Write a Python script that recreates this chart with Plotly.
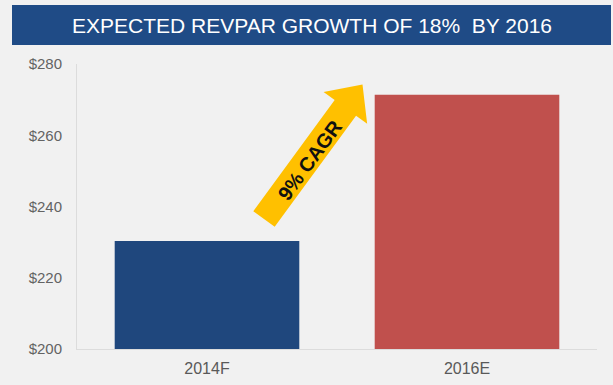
import math
import plotly.graph_objects as go

# RevPAR by year
categories = ["2014F", "2016E"]
revpar = [230.3, 271.4]
bar_colors = ["#1f477d", "#c0504d"]
tick_values = [200, 220, 240, 260, 280]
tick_labels = ["$200", "$220", "$240", "$260", "$280"]

W, H = 613, 385
L, R, T, B = 77, 16, 64, 36
PW, PH = W - L - R, H - T - B

fig = go.Figure(
    go.Bar(
        x=categories,
        y=revpar,
        marker=dict(color=bar_colors, line=dict(width=0)),
        width=0.71,
        hoverinfo="skip",
    )
)


def to_paper(px, py):
    return (px - L) / PW, (H - B - py) / PH


# Growth arrow, laid out in pixel space then mapped to paper coordinates
tail = (264.0, 219.0)
tip = (362.5, 84.5)
shaft_w, head_w, head_len = 26.5, 54.0, 29.0
dx, dy = tip[0] - tail[0], tip[1] - tail[1]
length = math.hypot(dx, dy)
ux, uy = dx / length, dy / length
nx, ny = -uy, ux
base = (tip[0] - ux * head_len, tip[1] - uy * head_len)
pts = [
    (tail[0] + nx * shaft_w / 2, tail[1] + ny * shaft_w / 2),
    (base[0] + nx * shaft_w / 2, base[1] + ny * shaft_w / 2),
    (base[0] + nx * head_w / 2, base[1] + ny * head_w / 2),
    tip,
    (base[0] - nx * head_w / 2, base[1] - ny * head_w / 2),
    (base[0] - nx * shaft_w / 2, base[1] - ny * shaft_w / 2),
    (tail[0] - nx * shaft_w / 2, tail[1] - ny * shaft_w / 2),
]
path = "M " + " L ".join(
    "{:.5f},{:.5f}".format(*to_paper(px, py)) for px, py in pts
) + " Z"

shapes = [
    # title banner
    dict(type="rect", xref="paper", yref="paper",
         x0=to_paper(12, 0)[0], x1=to_paper(611, 0)[0],
         y0=to_paper(0, 45)[1], y1=to_paper(0, 5)[1],
         fillcolor="#1f4b86", line=dict(width=0), layer="above"),
    dict(type="path", xref="paper", yref="paper", path=path,
         fillcolor="#ffc000", line=dict(width=0), layer="above"),
]

angle = math.degrees(math.atan2(dy, dx))
tx, ty = to_paper(310, 160)
annotations = [
    dict(text="EXPECTED REVPAR GROWTH OF 18%  BY 2016", xref="paper", yref="paper",
         x=to_paper(312, 0)[0], y=to_paper(0, 25)[1], showarrow=False,
         xanchor="center", yanchor="middle",
         font=dict(family="Liberation Sans, Arial", size=21, color="#ffffff")),
    dict(text="<b>9% CAGR</b>", xref="paper", yref="paper", x=tx, y=ty,
         showarrow=False, textangle=angle, xanchor="center", yanchor="middle",
         font=dict(family="Liberation Sans, Arial", size=20, color="#111111")),
]

fig.update_layout(
    width=W, height=H,
    margin=dict(l=L, r=R, t=T, b=B, pad=0, autoexpand=False),
    paper_bgcolor="#f1f1f1",
    plot_bgcolor="#f1f1f1",
    showlegend=False,
    bargap=0.29,
    shapes=shapes,
    annotations=annotations,
    xaxis=dict(
        showgrid=False, showline=True, linecolor="#dcdcdc", linewidth=1,
        tickfont=dict(family="Liberation Sans, Arial", size=16, color="#595959"),
        ticks="outside", ticklen=5, tickcolor="rgba(0,0,0,0)",
        automargin=False, fixedrange=True,
    ),
    yaxis=dict(
        range=[200, 280], tickvals=tick_values, ticktext=tick_labels,
        showgrid=False, showline=True, linecolor="#dcdcdc", linewidth=1,
        zeroline=False, ticks="outside", ticklen=11, tickcolor="rgba(0,0,0,0)",
        tickfont=dict(family="Liberation Sans, Arial", size=15, color="#636363"),
        automargin=False, fixedrange=True,
    ),
)

fig.write_html("out.html", config={"displayModeBar": False})
